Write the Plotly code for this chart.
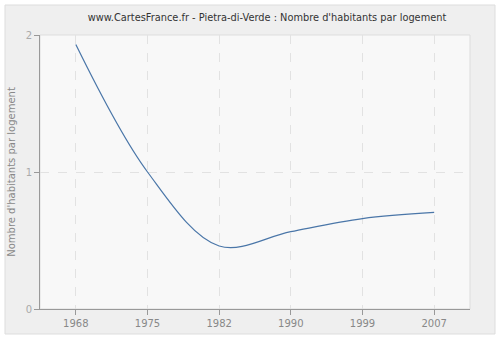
import plotly.graph_objects as go

years = ["1968", "1975", "1982", "1990", "1999", "2007"]
values = [1.93, 1.0, 0.46, 0.565, 0.66, 0.705]
y_ticks = [0, 1, 2]
title = "www.CartesFrance.fr - Pietra-di-Verde : Nombre d'habitants par logement"
y_title = "Nombre d'habitants par logement"

fig = go.Figure()
fig.add_trace(go.Scatter(
    x=list(range(len(years))), y=values, mode="lines",
    line=dict(color="#4a76a8", width=1.2, shape="spline", smoothing=1.0),
    hoverinfo="skip", showlegend=False,
))

W, H = 500, 340
# outer panel
fig.add_shape(type="rect", xref="paper", yref="paper", layer="below",
              x0=(5 - 40) / 430, x1=(495 - 40) / 430,
              y0=1 - (334 - 35) / 274, y1=1 + (35 - 5) / 274,
              fillcolor="#efefef", line=dict(color="#dddddd", width=1))
# plot area
fig.add_shape(type="rect", xref="paper", yref="paper", x0=0, y0=0, x1=1, y1=1,
              layer="below", fillcolor="#f8f8f8", line=dict(color="#dddddd", width=1))

fig.update_layout(
    width=W, height=H,
    margin=dict(l=40, r=30, t=35, b=31, autoexpand=False),
    paper_bgcolor="white", plot_bgcolor="rgba(0,0,0,0)",
    title=dict(text=title, x=0.534, xanchor="center", y=1 - 18 / H, yanchor="middle",
               font=dict(family="DejaVu Sans", size=9.8, color="#333333")),
    font=dict(family="DejaVu Sans", size=10, color="#888888"),
)
fig.update_xaxes(
    range=[-0.5, len(years) - 0.5], tickmode="array",
    tickvals=list(range(len(years))), ticktext=years,
    showgrid=True, gridcolor="#e2e2e2", griddash="dash", gridwidth=1,
    showline=True, linecolor="#999999", linewidth=1,
    ticks="outside", ticklen=5, tickcolor="#999999",
    zeroline=False, fixedrange=True, automargin=False,
    tickfont=dict(family="DejaVu Sans", size=10, color="#888888"),
)
fig.update_yaxes(
    range=[0, 2], tickmode="array", tickvals=y_ticks, ticktext=[str(t) for t in y_ticks],
    showgrid=True, gridcolor="#e2e2e2", griddash="dash", gridwidth=1,
    showline=True, linecolor="#999999", linewidth=1,
    ticks="outside", ticklen=5, tickcolor="#999999",
    zeroline=False, fixedrange=True, automargin=False,
    title=dict(text=y_title, standoff=8, font=dict(family="DejaVu Sans", size=10, color="#888888")),
    tickfont=dict(family="DejaVu Sans", size=10, color="#aaaaaa"),
)

fig.write_html("out.html")
